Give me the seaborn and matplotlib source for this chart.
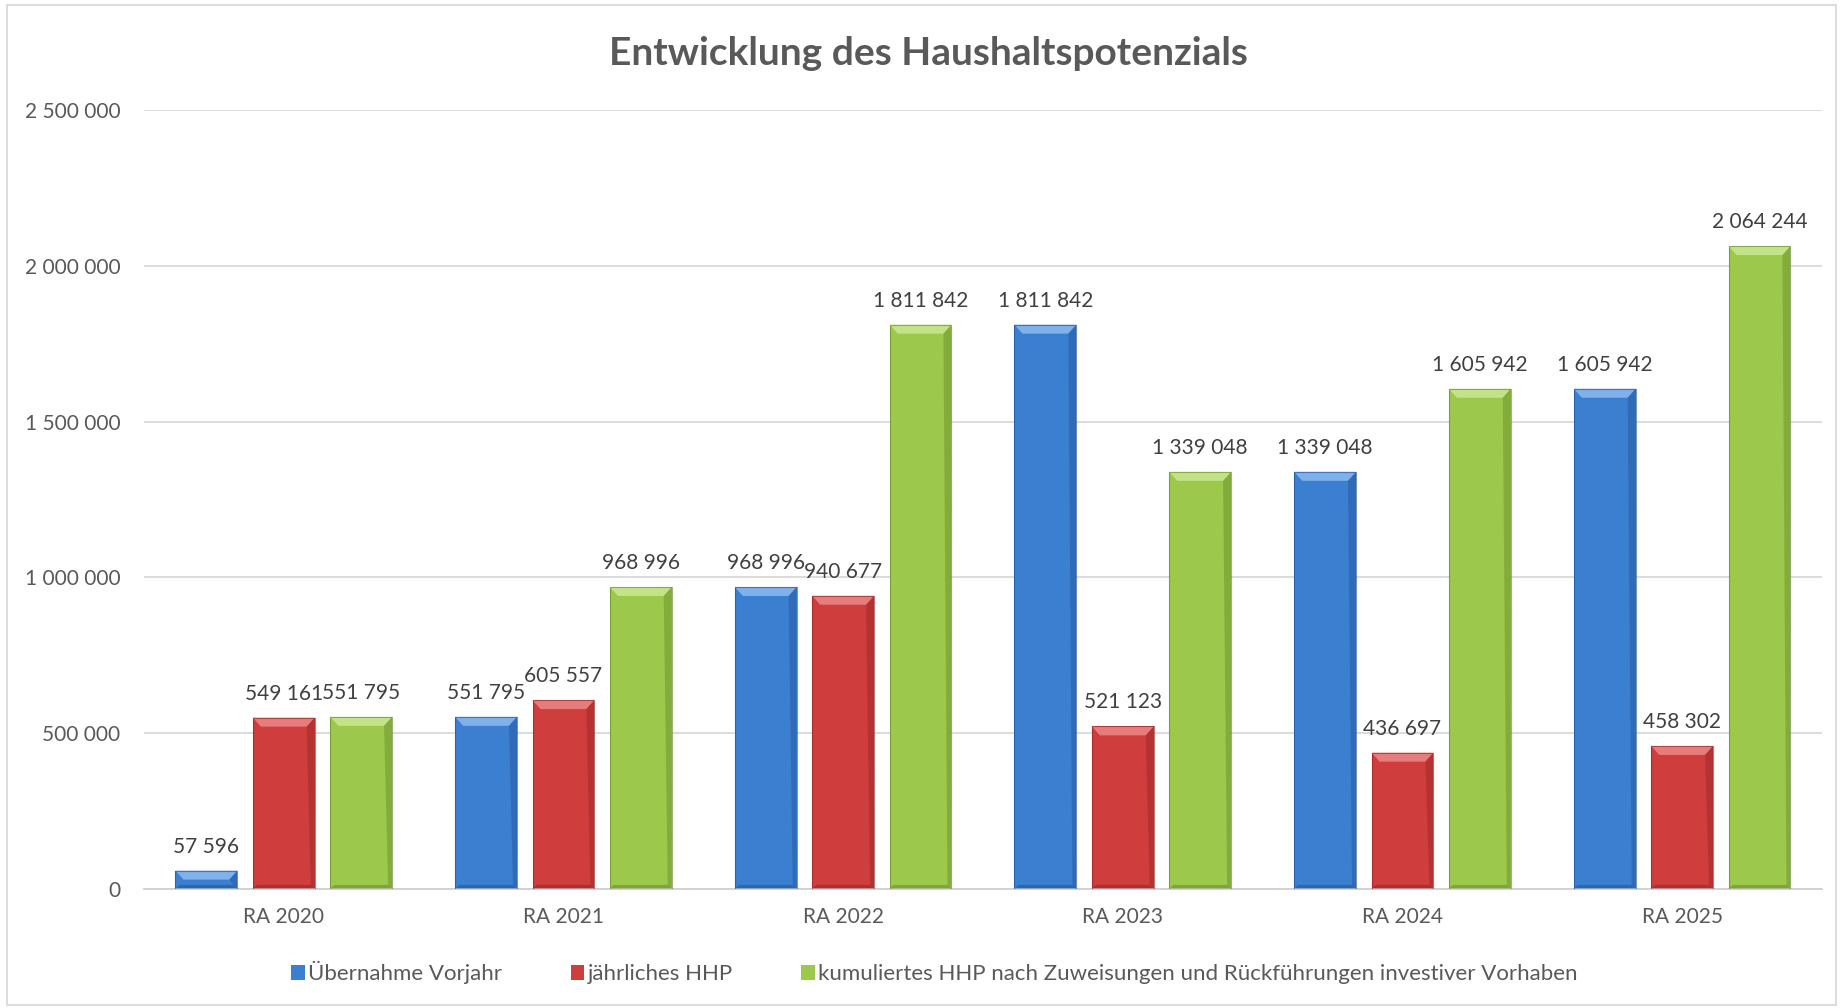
import pandas as pd
import seaborn as sns
import matplotlib.pyplot as plt
from matplotlib.patches import Polygon, Rectangle

# Daten
jahre = ["RA 2020", "RA 2021", "RA 2022", "RA 2023", "RA 2024", "RA 2025"]
serien = [
    "Übernahme Vorjahr",
    "jährliches HHP",
    "kumuliertes HHP nach Zuweisungen und Rückführungen investiver Vorhaben",
]
uebernahme = [57596, 551795, 968996, 1811842, 1339048, 1605942]
jaehrlich = [549161, 605557, 940677, 521123, 436697, 458302]
kumuliert = [551795, 968996, 1811842, 1339048, 1605942, 2064244]

farben = ["#3b7fd1", "#cf3d3d", "#9cc84b"]
hell = ["#80b1ea", "#e67c7c", "#c4e389"]
dunkel = ["#1f4f8f", "#8f2222", "#5f8525"]

df = pd.DataFrame({
    "jahr": jahre * 3,
    "serie": [serien[0]] * 6 + [serien[1]] * 6 + [serien[2]] * 6,
    "wert": uebernahme + jaehrlich + kumuliert,
})

sns.set_theme(style="white")
plt.rcParams["font.family"] = ["Lato", "DejaVu Sans"]

fig = plt.figure(figsize=(18.43, 10.08), dpi=100)
ax = fig.add_axes([0.0781, 0.1185, 0.9105, 0.7719])

sns.barplot(
    data=df, x="jahr", y="wert", hue="serie", hue_order=serien,
    palette=farben, width=0.83, gap=0.2, saturation=1, ax=ax,
    edgecolor="none", linewidth=0,
)

ax.set_ylim(0, 2500000)
ax.set_xlim(-0.5, 5.5)
ax.set_yticks(range(0, 2500001, 500000))
ax.yaxis.set_major_formatter(lambda v, p: f"{int(v):,}".replace(",", " "))
ax.grid(axis="y", color="#d9d9d9", linewidth=1.3)
ax.set_axisbelow(True)
for s in ["left", "right", "top"]:
    ax.spines[s].set_visible(False)
ax.spines["bottom"].set_color("#d0d0d0")
ax.spines["bottom"].set_linewidth(1.3)
ax.tick_params(axis="y", length=0, pad=17, labelsize=15, labelcolor="#595959")
ax.tick_params(axis="x", length=0, pad=13, labelsize=15, labelcolor="#595959")
ax.set_xlabel("")
ax.set_ylabel("")

# Abgeschrägte Kanten (3D-Optik)
px_y = 2500000 / 778.0
for i, cont in enumerate(ax.containers):
    for bar in cont:
        x, y = bar.get_x(), bar.get_y()
        w, h = bar.get_width(), bar.get_height()
        dy = min(9 * px_y, h / 2)
        dx = w * 0.13
        top = y + h
        ax.add_patch(Polygon([(x, top), (x + w, top), (x + w - dx, top - dy), (x + dx, top - dy)],
                             closed=True, facecolor=hell[i], edgecolor="none", zorder=3))
        ax.add_patch(Polygon([(x + w, top), (x + w, y), (x + w - dx * 0.5, y + dy * 0.4),
                              (x + w - dx, top - dy)],
                             closed=True, facecolor=dunkel[i], edgecolor="none", alpha=0.4, zorder=3))
        ax.add_patch(Polygon([(x, y), (x + w, y), (x + w - dx * 0.5, y + dy * 0.4), (x + dx * 0.5, y + dy * 0.4)],
                             closed=True, facecolor=dunkel[i], edgecolor="none", alpha=0.5, zorder=3))
        ax.add_patch(Rectangle((x, y), w, h, facecolor="none", edgecolor=dunkel[i],
                               linewidth=0.8, alpha=0.6, zorder=4))
    ax.bar_label(cont, labels=[f"{int(v):,}".replace(",", " ") for v in cont.datavalues],
                 padding=10, fontsize=15, color="#404040")

# Legende
handles, labels = ax.get_legend_handles_labels()
ax.legend_.remove()
fig.legend(handles, labels, loc="center", bbox_to_anchor=(0.507, 0.035), ncol=3,
           frameon=False, fontsize=16, labelcolor="#595959", handlelength=0.6,
           handleheight=0.6, handletextpad=0.15, columnspacing=3.1)

fig.suptitle("Entwicklung des Haushaltspotenzials", x=0.429 + 0.075, y=0.947, va="center",
             fontsize=28, fontweight="bold", color="#595959")

# Rahmen um die Grafik
fig.patches.append(Rectangle((0.004, 0.003), 0.992, 0.992, transform=fig.transFigure,
                             fill=False, edgecolor="#d9d9d9", linewidth=1.3))

fig.savefig("out.png", dpi=100)
